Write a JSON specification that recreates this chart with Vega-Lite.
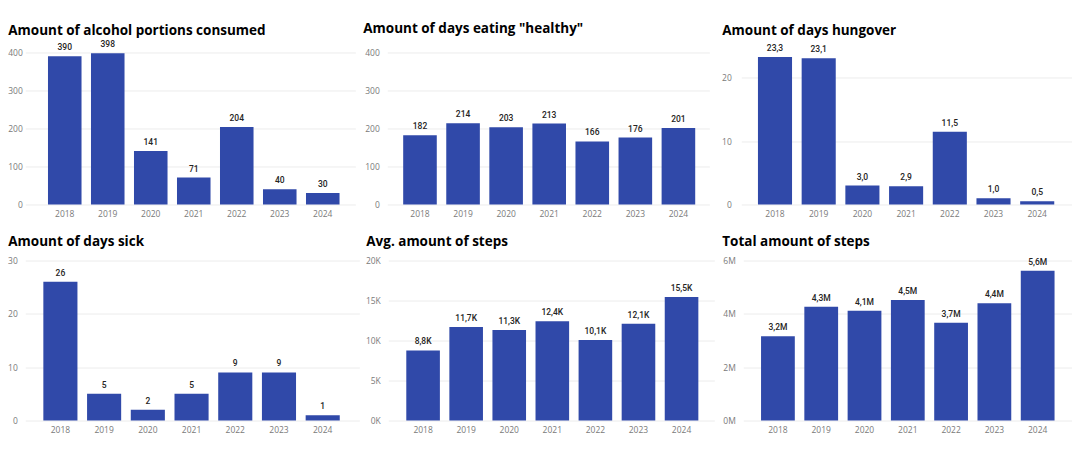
{
  "$schema": "https://vega.github.io/schema/vega-lite/v6.json",
  "padding": {"left": 7.3, "top": 21.5, "right": 0, "bottom": 0},
  "background": "#ffffff",
  "config": {
    "view": {"stroke": null},
    "font": "Open Sans",
    "axis": {"domain": false, "ticks": false, "gridColor": "#ececec", "gridWidth": 1, "labelColor": "#7a7a7a", "labelFont": "Open Sans", "labelFontSize": 8.5, "title": null, "minExtent": 0},
    "axisX": {"grid": false, "labelAngle": 0, "labelPadding": 5},
    "axisY": {"labelPadding": 8, "minExtent": 0},
    "title": {"anchor": "start", "frame": "group", "font": "Open Sans", "fontSize": 13.5, "fontWeight": "bold", "color": "#000000"},
    "bar": {"color": "#3049A9"},
    "text": {"font": "Roboto", "fontSize": 8.5, "fontWeight": 500, "color": "#252423", "baseline": "bottom", "dy": -4}
  },
  "datasets": {
    "alcohol": [
      {"year": "2018", "value": 390, "label": "390"},
      {"year": "2019", "value": 398, "label": "398"},
      {"year": "2020", "value": 141, "label": "141"},
      {"year": "2021", "value": 71, "label": "71"},
      {"year": "2022", "value": 204, "label": "204"},
      {"year": "2023", "value": 40, "label": "40"},
      {"year": "2024", "value": 30, "label": "30"}
    ],
    "healthy": [
      {"year": "2018", "value": 182, "label": "182"},
      {"year": "2019", "value": 214, "label": "214"},
      {"year": "2020", "value": 203, "label": "203"},
      {"year": "2021", "value": 213, "label": "213"},
      {"year": "2022", "value": 166, "label": "166"},
      {"year": "2023", "value": 176, "label": "176"},
      {"year": "2024", "value": 201, "label": "201"}
    ],
    "hungover": [
      {"year": "2018", "value": 23.3, "label": "23,3"},
      {"year": "2019", "value": 23.1, "label": "23,1"},
      {"year": "2020", "value": 3.0, "label": "3,0"},
      {"year": "2021", "value": 2.9, "label": "2,9"},
      {"year": "2022", "value": 11.5, "label": "11,5"},
      {"year": "2023", "value": 1.0, "label": "1,0"},
      {"year": "2024", "value": 0.5, "label": "0,5"}
    ],
    "sick": [
      {"year": "2018", "value": 26, "label": "26"},
      {"year": "2019", "value": 5, "label": "5"},
      {"year": "2020", "value": 2, "label": "2"},
      {"year": "2021", "value": 5, "label": "5"},
      {"year": "2022", "value": 9, "label": "9"},
      {"year": "2023", "value": 9, "label": "9"},
      {"year": "2024", "value": 1, "label": "1"}
    ],
    "avgsteps": [
      {"year": "2018", "value": 8750, "label": "8,8K"},
      {"year": "2019", "value": 11700, "label": "11,7K"},
      {"year": "2020", "value": 11300, "label": "11,3K"},
      {"year": "2021", "value": 12400, "label": "12,4K"},
      {"year": "2022", "value": 10050, "label": "10,1K"},
      {"year": "2023", "value": 12100, "label": "12,1K"},
      {"year": "2024", "value": 15450, "label": "15,5K"}
    ],
    "totalsteps": [
      {"year": "2018", "value": 3160000, "label": "3,2M"},
      {"year": "2019", "value": 4270000, "label": "4,3M"},
      {"year": "2020", "value": 4120000, "label": "4,1M"},
      {"year": "2021", "value": 4520000, "label": "4,5M"},
      {"year": "2022", "value": 3670000, "label": "3,7M"},
      {"year": "2023", "value": 4400000, "label": "4,4M"},
      {"year": "2024", "value": 5620000, "label": "5,6M"}
    ]
  },
  "columns": 1,
  "align": "none",
  "spacing": 16,
  "concat": [
    {
      "bounds": "flush",
      "spacing": 32,
      "hconcat": [
        {
          "width": 330, "height": 152,
          "title": {"text": "Amount of alcohol portions consumed", "dx": -17, "offset": 3},
          "data": {"name": "alcohol"},
          "encoding": {
            "x": {"field": "year", "type": "ordinal", "scale": {"paddingInner": 0.22, "paddingOuter": 0.447, "align": 0.59}},
            "y": {"field": "value", "type": "quantitative", "scale": {"domain": [0, 400], "nice": false}, "axis": {"values": [0, 100, 200, 300, 400], "labelPadding": 3}}
          },
          "layer": [
            {"mark": {"type": "bar"}},
            {"mark": {"type": "text"}, "encoding": {"text": {"field": "label"}}}
          ]
        },
        {
          "width": 322, "height": 152,
          "title": {"text": "Amount of days eating \"healthy\"", "dx": -24, "offset": 13},
          "data": {"name": "healthy"},
          "encoding": {
            "x": {"field": "year", "type": "ordinal", "scale": {"paddingInner": 0.22, "paddingOuter": 0.348, "align": 0.53}},
            "y": {"field": "value", "type": "quantitative", "scale": {"domain": [0, 400], "nice": false}, "axis": {"values": [0, 100, 200, 300, 400]}}
          },
          "layer": [
            {"mark": {"type": "bar"}},
            {"mark": {"type": "text"}, "encoding": {"text": {"field": "label"}}}
          ]
        },
        {
          "width": 331, "height": 152,
          "title": {"text": "Amount of days hungover", "dx": -19, "offset": 6.5},
          "data": {"name": "hungover"},
          "encoding": {
            "x": {"field": "year", "type": "ordinal", "scale": {"paddingInner": 0.22, "paddingOuter": 0.397, "align": 0.48}},
            "y": {"field": "value", "type": "quantitative", "scale": {"domain": [0, 24], "nice": false}, "axis": {"values": [0, 10, 20], "labelPadding": 10}}
          },
          "layer": [
            {"mark": {"type": "bar"}},
            {"mark": {"type": "text"}, "encoding": {"text": {"field": "label"}}}
          ]
        }
      ]
    },
    {
      "bounds": "flush",
      "spacing": 29,
      "hconcat": [
        {
          "width": 334, "height": 160,
          "title": {"text": "Amount of days sick", "dx": -17, "offset": 8},
          "data": {"name": "sick"},
          "encoding": {
            "x": {"field": "year", "type": "ordinal", "scale": {"paddingInner": 0.22, "paddingOuter": 0.43, "align": 0.48}},
            "y": {"field": "value", "type": "quantitative", "scale": {"domain": [0, 30], "nice": false}, "axis": {"values": [0, 10, 20, 30]}}
          },
          "layer": [
            {"mark": {"type": "bar"}},
            {"mark": {"type": "text"}, "encoding": {"text": {"field": "label"}}}
          ]
        },
        {
          "width": 326, "height": 160,
          "title": {"text": "Avg. amount of steps", "dx": -22, "offset": 8},
          "data": {"name": "avgsteps"},
          "encoding": {
            "x": {"field": "year", "type": "ordinal", "scale": {"paddingInner": 0.22, "paddingOuter": 0.394, "align": 0.53}},
            "y": {"field": "value", "type": "quantitative", "scale": {"domain": [0, 20000], "nice": false}, "axis": {"values": [0, 5000, 10000, 15000, 20000], "labelExpr": "(datum.value / 1000) + 'K'"}}
          },
          "layer": [
            {"mark": {"type": "bar"}},
            {"mark": {"type": "text"}, "encoding": {"text": {"field": "label"}}}
          ]
        },
        {
          "width": 329, "height": 160,
          "title": {"text": "Total amount of steps", "dx": -21, "offset": 8},
          "data": {"name": "totalsteps"},
          "encoding": {
            "x": {"field": "year", "type": "ordinal", "scale": {"paddingInner": 0.22, "paddingOuter": 0.41, "align": 0.5}},
            "y": {"field": "value", "type": "quantitative", "scale": {"domain": [0, 6000000], "nice": false}, "axis": {"values": [0, 2000000, 4000000, 6000000], "labelExpr": "(datum.value / 1000000) + 'M'"}}
          },
          "layer": [
            {"mark": {"type": "bar"}},
            {"mark": {"type": "text"}, "encoding": {"text": {"field": "label"}}}
          ]
        }
      ]
    }
  ]
}
